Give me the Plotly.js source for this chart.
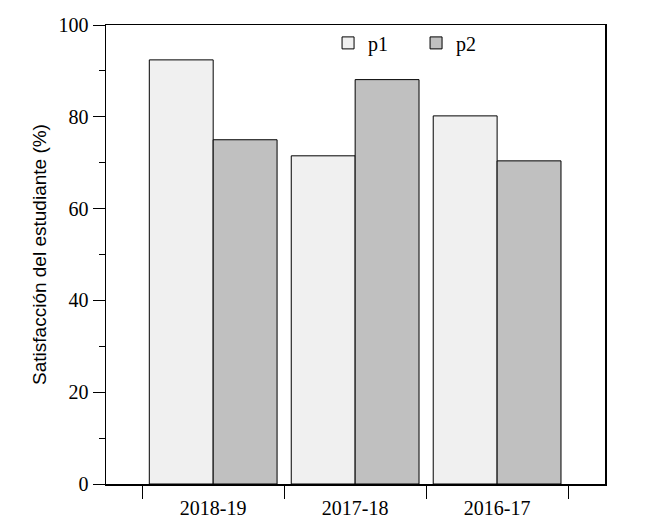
<!DOCTYPE html>
<html>
<head>
<meta charset="utf-8">
<script src="https://cdn.plot.ly/plotly-3.0.1.min.js"></script>
<style>body{margin:0;padding:0;background:#fff}#chart{width:654px;height:525px}</style>
</head>
<body>
<div id="chart"></div>
<script>
var categories = ["2018-19", "2017-18", "2016-17"];
var p1Values = [92.4, 71.5, 80.2];
var p2Values = [75.0, 88.1, 70.4];
var seriesNames = ["p1", "p2"];
var yTickVals = [0, 20, 40, 60, 80, 100];

var fontFam = "Liberation Serif, Times New Roman, serif";
var sansFam = "Liberation Sans, Arial, sans-serif";
var traces = [
  {type: "bar", name: seriesNames[0], x: categories, y: p1Values,
   marker: {color: "#f0f0f0", line: {color: "#000", width: 1}}},
  {type: "bar", name: seriesNames[1], x: categories, y: p2Values,
   marker: {color: "#c0c0c0", line: {color: "#000", width: 1}}}
];
var layout = {
  width: 654, height: 525,
  margin: {l: 106, r: 49, t: 25, b: 41},
  paper_bgcolor: "#fff", plot_bgcolor: "#fff",
  font: {family: fontFam, size: 20, color: "#000"},
  barmode: "group", bargap: 0.1, bargroupgap: 0,
  showlegend: true,
  legend: {orientation: "h", x: 0.445, y: 0.961, xanchor: "left", yanchor: "middle",
           entrywidth: 43, entrywidthmode: "pixels",
           bgcolor: "rgba(0,0,0,0)", font: {family: fontFam, size: 20}},
  xaxis: {
    type: "category", range: [-0.755, 2.76],
    tickson: "boundaries", ticks: "outside", ticklen: 13, tickwidth: 1, tickcolor: "#000",
    ticklabelstandoff: 5,
    showline: true, linecolor: "#000", linewidth: 1.5, mirror: true,
    showgrid: false, zeroline: false,
    tickfont: {family: fontFam, size: 20}
  },
  yaxis: {
    range: [0, 100], tickmode: "array", tickvals: yTickVals,
    ticks: "outside", ticklen: 12, tickwidth: 1, tickcolor: "#000",
    minor: {dtick: 10, ticks: "outside", ticklen: 6, tickwidth: 1, tickcolor: "#000", showgrid: false},
    showline: true, linecolor: "#000", linewidth: 1.5, mirror: true,
    showgrid: false, zeroline: false,
    tickfont: {family: fontFam, size: 20},
    title: {text: "Satisfacción del estudiante (%)", font: {family: sansFam, size: 19}, standoff: 7}
  }
};
Plotly.newPlot("chart", traces, layout, {displayModeBar: false, staticPlot: true});
</script>
</body>
</html>
